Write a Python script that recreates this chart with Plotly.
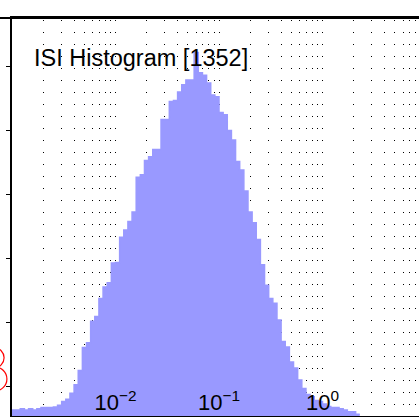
import numpy as np
import plotly.graph_objects as go

# ---- data ----
title_text = "ISI Histogram [1352]"
bin_start_log10 = -3.0          # log10 of first bin edge (s)
bin_width_log10 = 0.04          # log10 bin width
counts = [0.5, 0.5, 0.6, 0.5, 0.6, 0.5, 0.6, 0.7, 0.7, 0.7,
          0.75, 0.9, 1.2, 1.4, 1.9, 2.6, 3.8, 5.7, 6.1, 7.9,
          8.3, 9.8, 10.75, 11.1, 12.75, 12.8, 14.9, 15.5, 16.2, 17.0,
          19.9, 20.1, 21.3, 21.6, 22.2, 22.2, 24.7, 24.7, 26.2, 26.3,
          27.0, 27.6, 28.0, 28.0, 30.3, 28.6, 28.4, 27.75, 26.75, 26.6,
          25.3, 25.1, 23.8, 23.0, 21.2, 20.5, 18.75, 17.0, 16.1, 14.7,
          12.6, 10.9, 9.8, 9.4, 8.0, 6.2, 5.75, 4.5, 4.0, 3.0,
          2.3, 1.8, 1.6, 1.3, 1.2, 1.0, 0.8, 0.7, 0.7, 0.6,
          0.5, 0.35, 0.35, 0.15]
label_ticks = [0.01, 0.1, 1]
label_text = ["10<sup>\u22122</sup>", "10<sup>\u22121</sup>", "10<sup>0</sup>"]
neighbor_ticks = [1, 2, 3, 4, 5, 6]
# neighbouring panel's circles (paper-x of centre, y on neighbour axis, radius px)
neighbor_cx = [-0.044, -0.042]
neighbor_cy = [1.44, 1.11]
neighbor_r = [10, 12]

# ---- derived ----
n = len(counts)
edges = 10 ** (bin_start_log10 + bin_width_log10 * np.arange(n + 1))
yvals = counts + [counts[-1]]
decades = [10.0 ** e for e in range(-3, 1)]
minor_vals = [k * 10.0 ** e for e in range(-3, 1) for k in range(1, 10)]

FONT = "Liberation Sans"
W, H = 419, 417
ML, MT, MB, MR = 12, 18, 1, 0
PW, PH = W - ML - MR, H - MT - MB
x_range = [-3.0, -3.0 + PW / 103.5]
y_range = [0, PH / 12.0]
y2_range = [(450 - 416) / 64, (450 - 18) / 64]
dash = "0px,2px,1px,9px"

fig = go.Figure()
fig.add_trace(go.Scatter(
    x=edges, y=yvals, mode="lines", line_shape="hv",
    line=dict(color="#9999ff", width=1.5), fill="tozeroy",
    fillcolor="#9999ff", hoverinfo="skip", showlegend=False,
    xaxis="x", yaxis="y"))

shapes = []
for cx, cy, r in zip(neighbor_cx, neighbor_cy, neighbor_r):
    shapes.append(dict(type="circle", xref="paper", yref="y2",
                       x0=cx - r / PW, x1=cx + r / PW,
                       y0=cy - r / 64, y1=cy + r / 64,
                       line=dict(color="red", width=1.2),
                       fillcolor="rgba(0,0,0,0)", layer="above"))
# frame line along the top edge (continues into neighbouring panel)
shapes.append(dict(type="line", xref="paper", yref="paper",
                   x0=-ML / PW, x1=1, y0=1, y1=1,
                   line=dict(color="black", width=2), layer="above"))

fig.update_layout(
    width=W, height=H, autosize=False,
    margin=dict(l=ML, r=MR, t=MT, b=MB, pad=0, autoexpand=False),
    paper_bgcolor="white", plot_bgcolor="white",
    font=dict(family=FONT, color="black"),
    hovermode=False,
    xaxis=dict(type="log", range=x_range, domain=[0, 1], anchor="y",
               automargin=False,
               showline=True, linecolor="black", linewidth=2, mirror=True,
               ticks="", tickmode="array", tickvals=label_ticks,
               ticktext=label_text, ticklabelposition="inside",
               ticklabelstandoff=3,
               tickfont=dict(size=22, family=FONT, color="black"),
               showgrid=True, gridcolor="black", gridwidth=1, griddash=dash,
               minor=dict(tickmode="array", tickvals=minor_vals, ticks="",
                          showgrid=True, gridcolor="black", gridwidth=1,
                          griddash=dash),
               zeroline=False, layer="above traces"),
    xaxis2=dict(type="log", range=x_range, overlaying="x", side="top",
                anchor="y", showline=True, linecolor="black", linewidth=2,
                tickmode="array", automargin=False,
                tickvals=decades, ticks="inside", ticklen=4,
                tickcolor="black", showticklabels=False, showgrid=False,
                minor=dict(tickmode="array", tickvals=minor_vals,
                           ticks="inside", ticklen=2, tickcolor="black",
                           showgrid=False),
                zeroline=False),
    yaxis=dict(range=y_range, showgrid=False, showline=False, ticks="",
               automargin=False,
               showticklabels=False, zeroline=False, domain=[0, 1]),
    yaxis2=dict(range=y2_range, overlaying="y", side="left", anchor="x",
                automargin=False,
                tickmode="array", tickvals=neighbor_ticks, ticks="outside",
                ticklen=4, tickcolor="black", showline=True,
                linecolor="black", linewidth=2, showticklabels=False,
                showgrid=False, zeroline=False),
    shapes=shapes,
    annotations=[dict(text=title_text, xref="paper", yref="paper",
                      x=(32 - ML) / PW, y=(416 - 58) / PH,
                      xanchor="left", yanchor="middle", showarrow=False,
                      font=dict(size=23.5, family=FONT, color="black"))],
)

fig.write_html("out.html",
               config={"displayModeBar": False, "staticPlot": True},
               post_script="document.body.style.margin='0px';"
                           "document.body.style.overflow='hidden';")
